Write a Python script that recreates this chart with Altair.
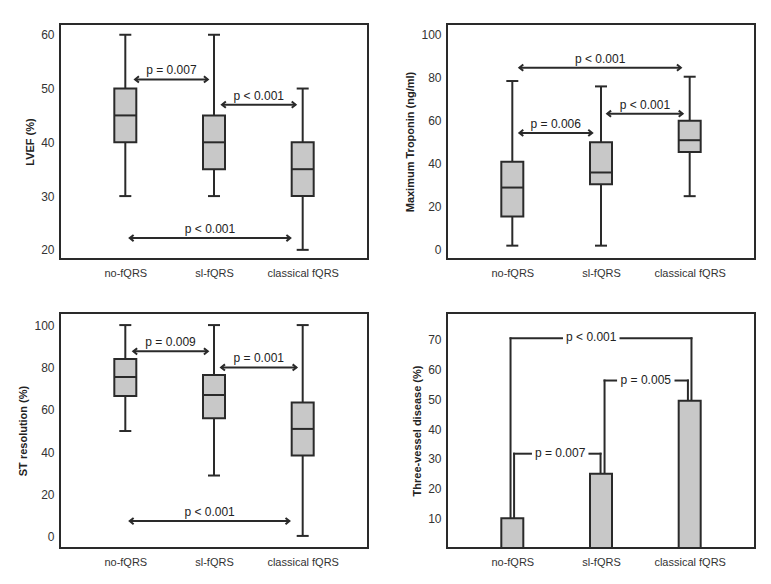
import altair as alt
import pandas as pd

FONT = "Liberation Sans, Arial"
INK = "#2a2a2a"
FILL = "#c8c8c8"
FS = 11

cats = ["no-fQRS", "sl-fQRS", "classical fQRS"]
pos = [0, 1, 2]

# LVEF (%)
lvef_min = [30, 30, 20]
lvef_q1 = [40, 35, 30]
lvef_med = [45, 40, 35]
lvef_q3 = [50, 45, 40]
lvef_max = [60, 60, 50]

# Maximum Troponin (ng/ml)
trop_min = [2, 2, 25]
trop_q1 = [15.5, 30.5, 45.5]
trop_med = [29, 36, 51]
trop_q3 = [41, 50, 60]
trop_max = [78.5, 76, 80.5]

# ST resolution (%)
st_min = [50, 29, 0.5]
st_q1 = [66.5, 56, 38.5]
st_med = [75.5, 67, 51]
st_q3 = [84, 76.5, 63.5]
st_max = [100, 100, 100]

# Three-vessel disease (%)
tvd = [10, 25, 49.5]

# comparison arrows: x start, x end, y level, label
lvef_ax1 = [0.11, 1.09, 0.05]
lvef_ax2 = [0.93, 1.92, 1.86]
lvef_ay = [51.7, 47, 22.2]
lvef_lab = ["p = 0.007", "p < 0.001", "p < 0.001"]

trop_ax1 = [0.08, 0.08, 1.07]
trop_ax2 = [1.90, 0.90, 1.92]
trop_ay = [84.7, 54.4, 63.3]
trop_lab = ["p < 0.001", "p = 0.006", "p < 0.001"]

st_ax1 = [0.09, 1.08, 0.05]
st_ax2 = [0.93, 1.93, 1.85]
st_ay = [87.6, 80, 7.5]
st_lab = ["p = 0.009", "p = 0.001", "p < 0.001"]

# brackets for bar panel
br_left = [-0.02, 0.02, 1.04]
br_right = [2.02, 0.995, 1.98]
br_level = [70.5, 31.7, 56.3]
br_lbase = [10, 10, 25]
br_rbase = [49.5, 25, 49.5]
br_gap1 = [0.56, 0.21, 1.17]
br_gap2 = [1.22, 0.87, 1.84]
br_lab = ["p < 0.001", "p = 0.007", "p = 0.005"]
br_labx = [0.89, 0.54, 1.505]

XDOM = [-0.68, 2.68]
W, H = 308, 235

label_expr = "datum.value == 0 ? 'no-fQRS' : datum.value == 1 ? 'sl-fQRS' : 'classical fQRS'"


def X(field="x"):
    return alt.X(
        f"{field}:Q",
        scale=alt.Scale(domain=XDOM, nice=False, zero=False),
        axis=alt.Axis(values=pos, labelExpr=label_expr, title=None, ticks=False,
                      domain=False, grid=False, labelPadding=8, labelFontSize=FS,
                      labelFont=FONT, labelColor="#333333"),
    )


def Y(field, dom, vals, title):
    return alt.Y(
        f"{field}:Q",
        scale=alt.Scale(domain=dom, nice=False, zero=False),
        axis=alt.Axis(values=vals, title=title, ticks=False, domain=False, grid=False,
                      labelPadding=6, labelFontSize=FS + 1, labelFont=FONT, labelColor="#333333",
                      titleFont=FONT, titleFontSize=FS, titleFontWeight="bold",
                      titleColor="#222222", titlePadding=5),
    )


PATH_L = "M1,-0.8L0,0L1,0.8"
PATH_R = "M-1,-0.8L0,0L-1,0.8"


def box_panel(mn, q1, md, q3, mx, ax1, ax2, ay, lab, dom, vals, title):
    d = pd.DataFrame({"x": pos, "cat": cats, "mn": mn, "q1": q1, "md": md, "q3": q3, "mx": mx})
    whisk = alt.Chart(d).mark_rule(color=INK, strokeWidth=2).encode(
        x=X(), y=Y("mn", dom, vals, title), y2=alt.Y2("mx"))
    box = alt.Chart(d).mark_bar(size=22, fill=FILL, stroke=INK, strokeWidth=2).encode(
        x=X(), y=Y("q1", dom, vals, title), y2=alt.Y2("q3"))
    med = alt.Chart(d).mark_tick(orient="horizontal", size=22, thickness=2, color=INK, opacity=1).encode(
        x=X(), y=Y("md", dom, vals, title))
    cap_lo = alt.Chart(d).mark_tick(orient="horizontal", size=12, thickness=2, color=INK, opacity=1).encode(
        x=X(), y=Y("mn", dom, vals, title))
    cap_hi = alt.Chart(d).mark_tick(orient="horizontal", size=12, thickness=2, color=INK, opacity=1).encode(
        x=X(), y=Y("mx", dom, vals, title))

    a = pd.DataFrame({"x": ax1, "x2": ax2, "y": ay, "lab": lab,
                      "mid": [(s + e) / 2 for s, e in zip(ax1, ax2)]})
    arrow = alt.Chart(a).mark_rule(color=INK, strokeWidth=2).encode(
        x=X(), x2=alt.X2("x2"), y=Y("y", dom, vals, title))
    ends = pd.DataFrame({
        "x": list(ax1) + list(ax2),
        "y": list(ay) + list(ay),
        "dir": ["L"] * len(ax1) + ["R"] * len(ax2),
    })
    heads = alt.Chart(ends).mark_point(filled=False, size=60, strokeWidth=2, color=INK, opacity=1).encode(
        x=X(), y=Y("y", dom, vals, title),
        shape=alt.Shape("dir:N", scale=alt.Scale(domain=["L", "R"], range=[PATH_L, PATH_R]), legend=None))
    txt = alt.Chart(a).mark_text(font=FONT, fontSize=FS + 1, color="#222222", dy=-9).encode(
        x=X("mid"), y=Y("y", dom, vals, title), text="lab:N")
    return alt.layer(whisk, box, med, cap_lo, cap_hi, arrow, heads, txt).properties(width=W, height=H)


tl = box_panel(lvef_min, lvef_q1, lvef_med, lvef_q3, lvef_max, lvef_ax1, lvef_ax2, lvef_ay, lvef_lab,
               [18.3, 62], [20, 30, 40, 50, 60], "LVEF (%)")
tr = box_panel(trop_min, trop_q1, trop_med, trop_q3, trop_max, trop_ax1, trop_ax2, trop_ay, trop_lab,
               [-4.2, 105], [0, 20, 40, 60, 80, 100], "Maximum Troponin (ng/ml)")
bl = box_panel(st_min, st_q1, st_med, st_q3, st_max, st_ax1, st_ax2, st_ay, st_lab,
               [-5.2, 105.7], [0, 20, 40, 60, 80, 100], "ST resolution (%)")

# bar panel
BDOM = [0, 79]
BVALS = [10, 20, 30, 40, 50, 60, 70]
BT = "Three-vessel disease (%)"
bd = pd.DataFrame({"x": pos, "cat": cats, "v": tvd, "z": [0, 0, 0]})
bars = alt.Chart(bd).mark_bar(size=22, fill=FILL, stroke=INK, strokeWidth=2).encode(
    x=X(), y=Y("v", BDOM, BVALS, BT), y2=alt.Y2("z"))

seg_x, seg_x2, seg_y, seg_y2 = [], [], [], []
for i in range(3):
    seg_x.append(br_left[i]); seg_x2.append(br_left[i]); seg_y.append(br_lbase[i]); seg_y2.append(br_level[i])
    seg_x.append(br_left[i]); seg_x2.append(br_gap1[i]); seg_y.append(br_level[i]); seg_y2.append(br_level[i])
    seg_x.append(br_gap2[i]); seg_x2.append(br_right[i]); seg_y.append(br_level[i]); seg_y2.append(br_level[i])
    seg_x.append(br_right[i]); seg_x2.append(br_right[i]); seg_y.append(br_level[i]); seg_y2.append(br_rbase[i])
segs = pd.DataFrame({"x": seg_x, "x2": seg_x2, "y": seg_y, "y2": seg_y2})
brackets = alt.Chart(segs).mark_rule(color=INK, strokeWidth=2, strokeCap="square").encode(
    x=X(), x2=alt.X2("x2"), y=Y("y", BDOM, BVALS, BT), y2=alt.Y2("y2"))
bt = pd.DataFrame({"x": br_labx, "y": br_level, "lab": br_lab})
btxt = alt.Chart(bt).mark_text(font=FONT, fontSize=FS + 1, color="#222222", dy=-1).encode(
    x=X(), y=Y("y", BDOM, BVALS, BT), text="lab:N")
br = alt.layer(brackets, bars, btxt).properties(width=W, height=H)

chart = alt.concat(tl, tr, bl, br, columns=2, spacing={"row": 54, "column": 79}, bounds="flush").properties(
    padding={"left": 8, "top": 15, "right": 5, "bottom": 5},
    background="white",
).configure_view(stroke=INK, strokeWidth=2)

chart.save("out.html", embed_options={"renderer": "svg", "actions": False})
